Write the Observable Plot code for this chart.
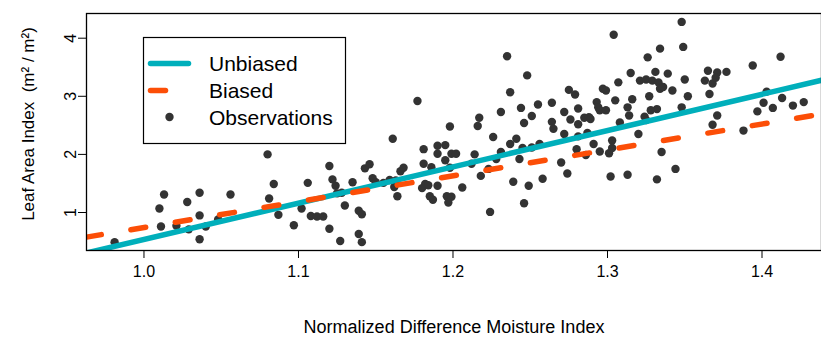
<!DOCTYPE html>
<html><head><meta charset="utf-8">
<script src="https://cdn.jsdelivr.net/npm/d3@7"></script>
<script src="https://cdn.jsdelivr.net/npm/@observablehq/plot@0.6"></script>
<style>
html,body{margin:0;padding:0;background:#fff;overflow:hidden;width:821px;height:338px;}
#chart{width:821px;height:338px;overflow:hidden;position:relative;}
#chart svg{max-width:none !important;}
</style></head><body><div id="chart"></div>
<script>
const obsX = [0.981,1.013,1.010,1.011,1.021,1.028,1.029,1.036,1.036,1.036,1.040,1.048,1.056,1.080,1.081,1.084,1.087,1.097,1.102,1.106,
1.108,1.112,1.116,1.120,1.122,1.124,1.120,1.127,1.125,1.128,1.130,1.135,1.139,1.141,1.139,1.141,1.143,1.146,1.148,1.150,
1.155,1.159,1.163,1.162,1.164,1.166,1.168,1.161,1.177,1.181,1.181,1.186,1.190,1.195,1.190,1.195,1.199,1.198,1.182,1.180,
1.184,1.190,1.185,1.187,1.196,1.199,1.197,1.198,1.202,1.206,1.212,1.214,1.216,1.217,1.218,1.224,1.226,1.228,1.231,1.231,
1.223,1.235,1.237,1.237,1.239,1.241,1.243,1.244,1.246,1.248,1.249,1.246,1.251,1.255,1.251,1.256,1.258,1.264,1.264,1.265,
1.270,1.272,1.272,1.275,1.279,1.276,1.281,1.281,1.285,1.280,1.274,1.287,1.286,1.245,1.304,1.288,1.289,1.281,1.293,1.294,
1.295,1.297,1.299,1.299,1.305,1.307,1.315,1.316,1.313,1.314,1.308,1.291,1.295,1.301,1.303,1.303,1.302,1.313,1.320,1.348,
1.334,1.349,1.326,1.331,1.339,1.321,1.325,1.329,1.333,1.334,1.336,1.342,1.350,1.327,1.352,1.365,1.371,1.377,1.363,1.368,
1.370,1.366,1.394,1.412,1.332,1.328,1.324,1.325,1.348,1.371,1.368,1.388,1.397,1.401,1.403,1.407,1.413,1.420,1.427,1.335,
1.344,1.332];
const obsY = [0.49,1.31,1.07,0.76,0.77,1.18,0.71,1.34,0.95,0.54,0.76,0.88,1.31,2.00,1.24,1.49,0.96,0.78,1.07,1.51,
0.94,0.93,0.93,1.80,1.57,1.46,0.72,0.51,1.33,1.34,1.12,1.52,1.03,0.97,0.63,0.49,1.76,1.83,1.59,1.52,
1.51,1.56,1.55,1.44,1.28,1.71,1.77,2.27,2.92,2.09,1.84,1.78,2.15,2.16,2.01,1.90,2.01,2.48,1.49,1.42,
1.47,1.46,1.28,1.22,1.28,1.27,1.17,1.77,2.01,1.43,1.84,2.00,2.49,2.63,1.63,1.01,2.30,1.92,2.73,2.04,
1.75,3.69,3.07,2.18,1.53,2.27,1.92,2.80,2.54,3.36,1.46,1.16,2.66,2.86,2.12,2.18,1.58,2.89,2.56,2.44,
1.86,2.73,2.35,3.11,3.03,2.60,2.79,2.52,2.63,2.09,1.67,2.37,1.99,2.11,4.06,2.64,2.61,2.31,2.90,2.81,
2.76,3.13,3.10,2.76,2.93,3.24,3.40,2.95,2.81,2.67,2.55,2.18,2.05,2.02,2.11,2.24,1.62,1.65,2.35,4.28,
3.82,3.85,3.67,3.42,3.39,3.27,3.29,3.27,3.24,3.13,3.16,3.10,3.29,3.00,3.00,3.44,3.41,3.42,3.27,3.22,
3.32,3.04,3.53,3.68,2.78,2.76,2.65,2.59,2.81,2.67,2.51,2.41,2.74,2.89,3.08,2.80,2.97,2.84,2.90,2.04,
1.75,1.57];
const xTicks = [1.0, 1.1, 1.2, 1.3, 1.4];
const yTicks = [1, 2, 3, 4];
const lineNames = ["Unbiased", "Biased"];
const lineIntercepts = [-5.711, -3.710];
const lineSlopes = [6.247, 4.452];
const legendLabels = ["Unbiased", "Biased", "Observations"];
const xTitle = "Normalized Difference Moisture Index";
const yTitle = "Leaf Area Index  (m\u00B2 / m\u00B2)";
const xDomain = [0.9628, 1.4385];
const yDomain = [0.346, 4.425];

const lineColors = ["#00AFBB", "#FC4E07"];
const lineDashes = [null, "15,30"];
const pointColor = "#333333";
const font = "'Liberation Sans', Arial, Helvetica, sans-serif";

const points = obsX.map((x, i) => ({x, y: obsY[i]}));
const lineMarks = lineNames.map((name, i) => {
  const pts = xDomain.map(x => ({x, y: lineIntercepts[i] + lineSlopes[i] * x}));
  return Plot.line(pts, {x: "x", y: "y", stroke: lineColors[i], strokeWidth: 5.5,
    strokeLinecap: "round", strokeDasharray: lineDashes[i] || undefined, clip: true});
});

const plot = Plot.plot({
  width: 830, height: 338,
  marginLeft: 86, marginRight: 9, marginTop: 13, marginBottom: 88,
  x: {domain: xDomain},
  y: {domain: yDomain},
  style: {fontFamily: font, fontSize: "16px", color: "#000", background: "#fff", maxWidth: "none"},
  marks: [
    Plot.dot(points, {x: "x", y: "y", r: 4.2, fill: pointColor, stroke: "none"}),
    ...lineMarks,
    Plot.frame({stroke: "#000", strokeWidth: 1.3}),
    Plot.axisX({ticks: xTicks, tickSize: 8, tickPadding: 7, tickFormat: d3.format(".1f"), fontSize: 16, label: null}),
    Plot.axisY({ticks: yTicks, tickSize: 8, tickFormat: () => "", label: null}),
    Plot.text(yTicks, {y: d => d, text: d => String(d), frameAnchor: "left", dx: -16, rotate: -90,
      textAnchor: "middle", lineAnchor: "middle", fontSize: 16}),
    Plot.text([xTitle], {frameAnchor: "bottom", dy: 77, text: d => d, textAnchor: "middle", lineAnchor: "middle", fontSize: 18}),
    Plot.text([yTitle], {frameAnchor: "left", dx: -58, dy: -8, rotate: -90, text: d => d,
      textAnchor: "middle", lineAnchor: "middle", fontSize: 17})
  ]
});
document.getElementById("chart").appendChild(plot);

// legend (R-style box)
const svg = d3.select(plot);
const lg = svg.append("g").attr("font-family", font);
lg.append("rect").attr("x", 143.5).attr("y", 37.5).attr("width", 202).attr("height", 106)
  .attr("fill", "#fff").attr("stroke", "#000").attr("stroke-width", 1.2);
const rowY = [63.5, 90.5, 117];
lineNames.forEach((name, i) => {
  lg.append("line").attr("x1", 150.5).attr("x2", 188.5).attr("y1", rowY[i]).attr("y2", rowY[i])
    .attr("stroke", lineColors[i]).attr("stroke-width", 5.5).attr("stroke-linecap", "round")
    .attr("stroke-dasharray", lineDashes[i]);
});
lg.append("circle").attr("cx", 169.5).attr("cy", rowY[2]).attr("r", 4.2).attr("fill", pointColor);
legendLabels.forEach((t, i) => {
  lg.append("text").attr("x", 209).attr("y", rowY[i]).attr("dominant-baseline", "central")
    .attr("text-anchor", "start").attr("font-size", 21).attr("fill", "#000").text(t);
});
</script>
</body></html>
